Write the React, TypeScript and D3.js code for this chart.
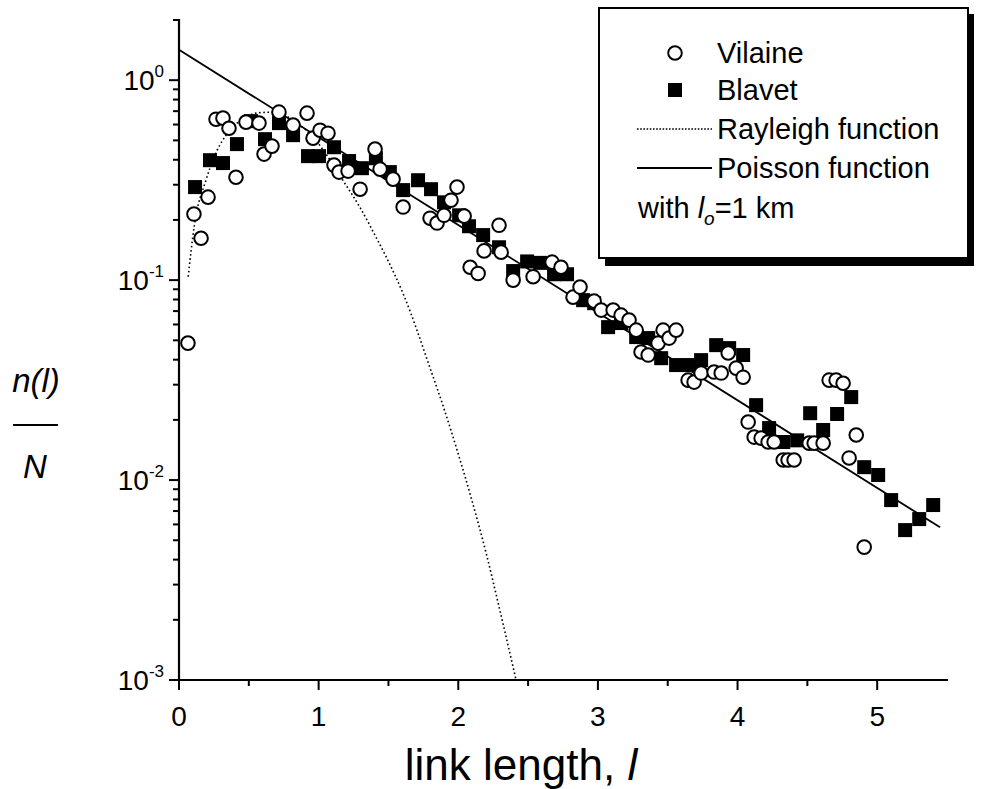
import React from "react";
import * as d3 from "d3";

// ---- data (link length l, n(l)/N) ----
const vilaine: [number, number][] = [
  [0.064, 0.0484], [0.107, 0.214], [0.158, 0.162], [0.208, 0.26], [0.265, 0.638], [0.315, 0.646],
  [0.358, 0.575], [0.408, 0.327], [0.48, 0.617], [0.573, 0.61], [0.609, 0.427], [0.666, 0.468],
  [0.716, 0.692], [0.817, 0.596], [0.917, 0.684], [0.96, 0.513], [1.01, 0.562], [1.067, 0.543],
  [1.11, 0.376], [1.146, 0.347], [1.211, 0.351], [1.297, 0.285], [1.404, 0.452], [1.44, 0.359],
  [1.533, 0.32], [1.605, 0.232], [1.798, 0.204], [1.848, 0.193], [1.898, 0.211], [1.948, 0.251],
  [1.991, 0.292], [2.042, 0.209], [2.085, 0.116], [2.142, 0.108], [2.185, 0.14], [2.292, 0.188],
  [2.307, 0.138], [2.393, 0.1], [2.536, 0.104], [2.672, 0.123], [2.736, 0.116], [2.822, 0.0822],
  [2.872, 0.0923], [2.973, 0.0785], [3.023, 0.0708], [3.109, 0.0708], [3.166, 0.0668], [3.223, 0.0631],
  [3.274, 0.0562], [3.309, 0.0437], [3.36, 0.0422], [3.431, 0.0484], [3.467, 0.0562], [3.51, 0.0513],
  [3.56, 0.0562], [3.646, 0.0316], [3.689, 0.0309], [3.739, 0.0343], [3.832, 0.0347], [3.883, 0.0343],
  [3.933, 0.0432], [3.99, 0.0363], [4.04, 0.0327], [4.076, 0.0195], [4.119, 0.0164], [4.169, 0.0162],
  [4.219, 0.0155], [4.262, 0.0155], [4.327, 0.0126], [4.362, 0.0126], [4.405, 0.0126], [4.513, 0.0153],
  [4.549, 0.0153], [4.613, 0.0153], [4.656, 0.0316], [4.706, 0.0316], [4.756, 0.0305], [4.799, 0.0129],
  [4.85, 0.0168], [4.907, 0.00462],
];

const blavet: [number, number][] = [
  [0.115, 0.292], [0.222, 0.398], [0.315, 0.385], [0.415, 0.479], [0.516, 0.624], [0.616, 0.507],
  [0.716, 0.61], [0.817, 0.531], [0.924, 0.417], [1.003, 0.417], [1.11, 0.462], [1.218, 0.394],
  [1.31, 0.363], [1.41, 0.407], [1.51, 0.347], [1.605, 0.282], [1.712, 0.316], [1.805, 0.285],
  [1.898, 0.245], [2.006, 0.211], [2.077, 0.186], [2.178, 0.168], [2.292, 0.146], [2.393, 0.111],
  [2.493, 0.124], [2.586, 0.122], [2.686, 0.107], [2.779, 0.107], [2.894, 0.0794], [2.973, 0.0767],
  [3.073, 0.0582], [3.166, 0.061], [3.274, 0.0519], [3.36, 0.0513], [3.453, 0.0407], [3.56, 0.0376],
  [3.653, 0.0376], [3.739, 0.0398], [3.847, 0.0473], [3.94, 0.0457], [4.04, 0.0422], [4.133, 0.0237],
  [4.226, 0.0182], [4.327, 0.0155], [4.427, 0.0158], [4.52, 0.0216], [4.613, 0.0178], [4.713, 0.0214],
  [4.814, 0.026], [4.907, 0.0116], [5.007, 0.0106], [5.1, 0.00794], [5.2, 0.00562], [5.301, 0.00638],
  [5.401, 0.0075],
];

const rayleigh: [number, number][] = [
  [0.066, 0.104], [0.11, 0.188], [0.193, 0.316], [0.251, 0.412], [0.337, 0.531], [0.444, 0.631],
  [0.552, 0.684], [0.66, 0.692], [0.76, 0.665], [0.86, 0.6], [0.96, 0.52], [1.06, 0.42],
  [1.173, 0.316], [1.29, 0.235], [1.423, 0.158], [1.483, 0.131], [1.614, 0.0826], [1.8, 0.036],
  [1.9, 0.0225], [2.0, 0.0135], [2.1, 0.0078], [2.2, 0.0043], [2.3, 0.0022], [2.414, 0.001],
];

const poisson: [number, number][] = [[0, 1.42], [5.45, 0.0058]];

const xMajorTicks = [0, 1, 2, 3, 4, 5];
const xMinorTicks = [0.5, 1.5, 2.5, 3.5, 4.5];
const yDecadeExps = [0, -1, -2, -3];

const legendLabels = ["Vilaine", "Blavet", "Rayleigh function", "Poisson function"];

const FONT = "'Liberation Sans', Arial, Helvetica, sans-serif";

export default function App() {
  const x = d3.scaleLinear().domain([0, 5.5]).range([179, 947]);
  const y = d3.scaleLog().domain([0.001, 2]).range([680, 20]);

  const yMinor: number[] = [];
  for (let e = -3; e <= 0; e++) {
    for (let m = 2; m <= 9; m++) {
      const v = m * Math.pow(10, e);
      if (v <= 2.0001) yMinor.push(v);
    }
  }

  const lineGen = d3
    .line<[number, number]>()
    .x((d) => x(d[0]))
    .y((d) => y(d[1]));
  const rayGen = d3
    .line<[number, number]>()
    .x((d) => x(d[0]))
    .y((d) => y(d[1]))
    .curve(d3.curveMonotoneX);

  const sq = 14;
  const cr = 6.8;

  return (
    <svg
      width={982}
      height={789}
      style={{ position: "absolute", left: 0, top: 0, background: "#fff" }}
      fontFamily={FONT}
    >
      <rect x={0} y={0} width={982} height={789} fill="#fff" />

      {/* curves */}
      <path d={lineGen(poisson) || ""} fill="none" stroke="#000" strokeWidth={1.8} />
      <path
        d={rayGen(rayleigh) || ""}
        fill="none"
        stroke="#000"
        strokeWidth={1.6}
        strokeDasharray="1.6,2.6"
      />

      {/* Blavet squares */}
      {blavet.map((d, i) => (
        <rect key={"b" + i} x={x(d[0]) - sq / 2} y={y(d[1]) - sq / 2} width={sq} height={sq} fill="#000" />
      ))}
      {/* Vilaine circles */}
      {vilaine.map((d, i) => (
        <circle key={"v" + i} cx={x(d[0])} cy={y(d[1])} r={cr} fill="#fff" stroke="#000" strokeWidth={2} />
      ))}

      {/* axes */}
      <line x1={179} x2={179} y1={19} y2={681} stroke="#000" strokeWidth={2.2} />
      <line x1={178} x2={948} y1={680} y2={680} stroke="#000" strokeWidth={2.2} />

      {/* y ticks */}
      {yDecadeExps.map((e) => {
        const yy = y(Math.pow(10, e));
        return (
          <g key={"yt" + e}>
            <line x1={169} x2={179} y1={yy} y2={yy} stroke="#000" strokeWidth={2} />
            <text x={164} y={yy + 10} textAnchor="end" fontSize={28} fill="#000">
              10<tspan fontSize={17} dy={-13}>{String(e)}</tspan>
            </text>
          </g>
        );
      })}
      {yMinor.map((v, i) => (
        <line key={"ym" + i} x1={173} x2={179} y1={y(v)} y2={y(v)} stroke="#000" strokeWidth={2} />
      ))}

      {/* x ticks */}
      {xMajorTicks.map((t) => (
        <g key={"xt" + t}>
          <line x1={x(t)} x2={x(t)} y1={680} y2={690} stroke="#000" strokeWidth={2} />
          <text x={x(t)} y={726} textAnchor="middle" fontSize={28} fill="#000">
            {t}
          </text>
        </g>
      ))}
      {xMinorTicks.map((t) => (
        <line key={"xm" + t} x1={x(t)} x2={x(t)} y1={680} y2={686} stroke="#000" strokeWidth={2} />
      ))}

      {/* axis titles */}
      <text x={521} y={780} textAnchor="middle" fontSize={44} fill="#000">
        link length, <tspan fontStyle="italic">l</tspan>
      </text>
      <text x={36} y={392} textAnchor="middle" fontSize={33} fontStyle="italic" fill="#000">
        n(l)
      </text>
      <line x1={13} x2={58} y1={425} y2={425} stroke="#000" strokeWidth={2} />
      <text x={35} y={478} textAnchor="middle" fontSize={33} fontStyle="italic" fill="#000">
        N
      </text>

      {/* legend */}
      <rect x={605} y={14} width={369} height={252} fill="#000" />
      <rect x={599} y={8} width={369} height={250} fill="#fff" stroke="#000" strokeWidth={2} />
      <circle cx={675} cy={53} r={cr} fill="#fff" stroke="#000" strokeWidth={2} />
      <text x={717} y={63} fontSize={29} fill="#000">{legendLabels[0]}</text>
      <rect x={675 - sq / 2} y={90 - sq / 2} width={sq} height={sq} fill="#000" />
      <text x={717} y={100} fontSize={29} fill="#000">{legendLabels[1]}</text>
      <line x1={637} x2={712} y1={129} y2={129} stroke="#000" strokeWidth={1.6} strokeDasharray="1.6,1.6" />
      <text x={717} y={139} fontSize={29} fill="#000">{legendLabels[2]}</text>
      <line x1={637} x2={712} y1={168} y2={168} stroke="#000" strokeWidth={1.8} />
      <text x={717} y={178} fontSize={29} fill="#000">{legendLabels[3]}</text>
      <text x={638} y={218} fontSize={29} fill="#000">
        with <tspan fontStyle="italic">l</tspan>
        <tspan fontStyle="italic" fontSize={19} dy={7}>o</tspan>
        <tspan dy={-7}>=1 km</tspan>
      </text>
    </svg>
  );
}
